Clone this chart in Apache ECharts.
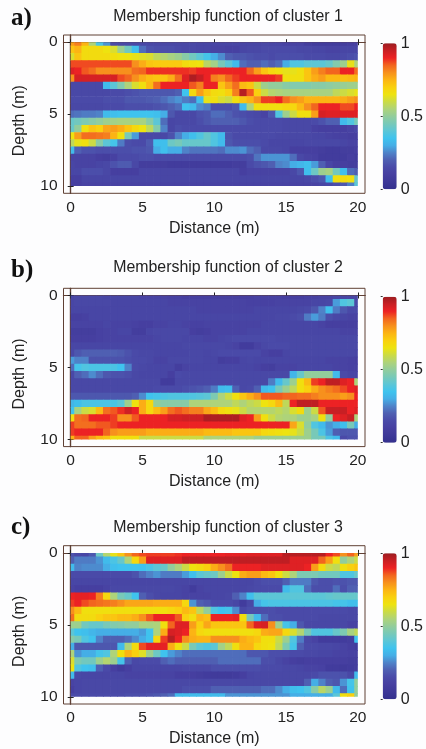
<!DOCTYPE html>
<html>
<head>
<meta charset="utf-8">
<style>html,body{margin:0;padding:0;background:#fdfdfe}#c{width:426px;height:749px}</style>
<script src="https://cdn.jsdelivr.net/npm/echarts@6/dist/echarts.min.js"></script>
</head>
<body>
<div id="c"></div>
<script>
// Membership values in percent; each row is one depth (every 0.5 m), each entry one distance (every 0.5 m)
const cluster1 = [
[78,82,75,55,37,27,15,14,14,14,14,14,14,14,14,14,14,14,13,13,13,13,13,13,13,13,13,14,13,13,12,12,12,9,8,8,8,8,9,10,11],
[72,75,67,67,67,65,62,52,44,34,22,17,16,16,16,15,14,14,13,13,12,12,11,11,13,14,14,15,15,15,15,15,14,14,13,13,12,12,13,13,13],
[62,72,67,67,67,67,66,65,65,64,63,62,58,56,54,52,48,44,40,36,30,26,20,18,18,17,16,16,15,16,16,16,16,15,15,15,14,14,15,16,17],
[87,87,87,87,87,87,87,87,87,80,76,72,71,71,71,71,67,66,65,57,53,45,40,33,22,20,20,22,20,22,30,38,38,40,40,40,42,47,52,64,55],
[92,90,86,84,80,80,80,80,80,84,85,89,89,89,89,89,89,88,90,90,90,90,90,90,90,85,78,72,68,66,64,64,66,72,78,82,85,85,90,90,84],
[80,93,93,93,93,93,93,87,85,80,76,73,72,72,76,84,92,98,95,90,82,80,85,88,90,90,90,90,90,88,66,66,66,72,76,78,74,74,73,74,75],
[14,14,14,14,14,33,40,47,55,62,66,74,84,90,90,90,90,86,82,90,90,72,78,84,74,72,60,52,50,50,48,47,47,47,48,48,49,50,51,52,52],
[14,14,14,14,14,14,15,15,16,17,18,18,18,18,18,20,35,68,78,72,67,66,70,82,97,86,70,60,56,55,54,54,54,54,54,54,54,58,60,62,64],
[15,15,15,15,15,16,16,16,18,18,18,19,20,22,25,27,24,22,34,64,66,62,60,66,72,75,80,88,88,90,84,80,78,75,75,75,75,75,76,78,80],
[14,14,14,14,14,15,15,15,16,16,16,16,17,18,20,22,35,33,26,24,16,16,16,18,33,55,66,66,66,66,68,68,74,80,85,90,90,90,87,87,90],
[22,23,24,24,25,33,34,35,35,35,35,35,34,30,18,14,14,14,17,18,22,22,20,17,16,15,14,12,18,38,52,60,66,66,78,93,92,92,92,92,92],
[42,44,46,48,50,52,53,54,54,54,54,48,40,22,13,14,14,14,16,18,20,20,20,20,18,16,15,15,15,15,14,14,14,14,15,17,20,20,33,38,45],
[42,50,66,72,70,77,78,76,72,68,65,58,47,25,13,16,15,15,15,15,15,15,15,15,15,15,15,15,15,15,14,14,14,14,11,10,10,10,10,12,14],
[65,78,84,84,83,82,75,66,45,28,14,14,14,14,17,25,30,34,38,42,38,33,17,15,15,15,15,15,15,14,14,14,14,14,13,13,12,11,11,10,10],
[58,64,66,60,48,40,36,24,16,15,15,19,34,34,43,45,42,42,42,42,38,33,18,16,16,16,16,15,13,13,13,13,13,14,14,14,14,14,13,12,12],
[33,20,17,17,16,16,16,16,16,17,17,18,30,34,30,30,25,23,23,23,23,22,26,26,27,22,20,14,14,14,13,10,10,10,10,9,8,8,9,9,10],
[12,12,12,12,10,9,11,15,15,15,16,16,15,15,15,15,15,15,15,15,15,15,15,15,15,16,23,27,27,27,27,22,14,12,11,8,8,8,8,10,8],
[13,12,12,12,13,14,17,19,19,14,9,9,9,9,8,8,8,8,8,8,8,8,8,9,9,15,17,18,20,25,26,30,32,34,28,20,13,10,10,9,9],
[13,13,16,16,16,14,10,10,10,10,13,13,13,13,13,13,13,13,13,13,13,13,13,13,10,12,12,12,12,12,12,14,18,34,43,52,54,44,34,22,20],
[10,10,13,13,13,13,13,13,13,13,13,13,13,13,13,13,13,13,13,13,13,13,13,13,13,13,13,13,13,13,13,13,13,14,16,18,34,66,67,66,42],
[10,10,12,12,12,12,12,12,12,12,12,12,12,12,12,12,12,12,12,12,12,12,12,12,12,12,12,12,12,12,12,12,12,12,12,13,14,16,18,24,40]
];
const cluster2 = [
[13,14,14,14,14,13,13,13,13,13,12,12,12,12,11,11,10,10,10,10,10,10,10,10,10,10,11,11,11,11,10,10,10,11,11,12,12,13,13,13,13],
[13,14,14,14,14,14,13,13,13,13,13,13,13,13,12,12,12,12,12,12,12,12,12,12,12,11,11,11,11,12,12,12,12,12,13,13,14,28,38,40,15],
[13,13,13,13,13,13,13,13,13,13,13,13,13,13,13,13,13,13,12,12,12,12,12,12,12,12,13,13,13,13,13,13,14,15,18,25,34,24,18,15,15],
[10,10,11,13,13,13,13,13,13,13,13,13,13,13,13,13,13,13,13,13,13,13,13,13,13,13,13,13,13,14,14,15,16,24,28,24,16,14,13,12,12],
[12,12,12,12,12,13,12,12,12,11,10,10,12,12,13,13,12,11,11,12,12,12,12,12,12,12,12,13,13,13,13,13,13,13,13,12,10,10,10,10,10],
[9,9,9,9,11,12,12,13,13,9,9,13,14,14,14,14,14,10,9,10,12,12,12,12,12,13,13,13,13,13,13,13,13,13,13,13,13,13,12,12,12],
[10,10,10,10,11,12,12,12,12,12,12,12,13,14,14,14,13,13,13,12,12,13,14,15,15,15,15,15,15,14,14,14,14,14,14,14,14,14,14,14,14],
[13,13,13,13,13,13,13,13,13,13,13,13,13,13,13,13,14,14,14,14,14,14,13,12,8,8,12,14,15,15,15,14,14,14,14,14,14,14,14,14,14],
[14,18,20,20,20,20,20,19,17,15,14,14,13,13,13,13,13,14,14,13,14,15,15,15,15,15,15,12,10,10,13,14,14,14,14,14,14,14,14,14,13],
[28,25,25,17,17,17,17,17,16,15,15,14,12,12,14,14,14,14,14,13,13,9,10,10,13,14,13,13,13,13,13,13,13,13,13,13,12,12,12,11,10],
[22,36,38,37,37,37,37,35,25,15,14,13,13,13,13,9,12,13,13,13,13,13,13,13,13,13,12,10,9,12,12,12,13,13,13,13,13,12,12,11,11],
[14,20,22,26,22,18,17,17,16,14,13,13,13,13,10,15,14,14,14,14,14,14,14,14,14,14,14,14,14,14,14,32,42,50,50,50,50,33,15,13,13],
[14,14,14,14,14,14,14,14,14,14,14,14,14,8,8,14,14,14,14,14,14,14,14,14,14,14,14,14,24,33,42,52,66,74,88,90,96,96,92,90,55],
[14,14,14,14,14,14,14,14,14,14,14,14,15,15,15,15,16,17,18,20,24,33,34,20,14,15,20,33,35,45,52,58,66,70,76,80,82,84,87,90,92],
[18,18,18,18,18,18,18,18,18,20,26,35,36,37,38,38,38,38,39,40,46,55,60,66,72,76,80,86,86,86,85,85,84,84,82,80,80,80,78,80,90],
[32,34,37,37,37,37,37,40,52,65,76,68,50,48,48,48,48,55,55,55,55,55,55,58,55,58,60,65,68,74,58,90,96,96,96,90,90,90,90,90,90],
[35,54,60,62,74,84,86,89,94,90,76,68,74,78,84,86,84,82,82,77,74,68,66,64,60,56,56,56,56,58,56,62,67,52,60,86,95,95,95,90,92],
[66,84,85,90,90,90,88,80,80,86,90,90,90,90,93,93,94,94,94,98,98,98,98,98,92,90,78,66,60,56,55,55,52,52,54,66,50,90,92,95,55],
[88,84,84,84,86,86,88,90,90,90,90,90,90,90,90,90,90,90,90,90,90,90,90,90,90,90,90,90,90,90,90,77,62,50,38,33,27,30,34,45,30],
[88,90,90,90,90,85,80,78,78,78,78,76,76,76,76,76,76,76,76,74,74,74,74,72,72,72,72,68,67,66,65,64,60,52,45,37,28,20,18,18,18],
[75,85,85,78,74,72,66,66,66,66,60,60,60,60,60,60,60,60,60,55,55,55,55,55,55,55,52,52,52,52,52,52,52,52,45,45,37,33,15,17,17]
];
const cluster3 = [
[17,14,13,18,43,56,64,72,80,85,87,88,88,88,88,89,90,90,90,90,90,90,91,91,91,92,92,92,92,92,97,97,97,97,97,97,90,87,80,85,78],
[20,24,24,24,27,33,37,42,55,68,78,92,92,92,92,92,96,96,96,96,96,96,96,96,96,96,96,96,96,96,96,92,92,92,92,85,78,66,50,55,60],
[33,25,26,26,26,30,34,35,35,35,35,37,40,42,50,55,60,65,67,70,76,80,84,90,90,90,90,92,92,92,92,92,92,90,78,67,60,58,66,70,72],
[15,15,15,15,15,15,15,15,15,17,22,25,27,24,24,24,28,34,40,42,43,52,60,65,76,78,78,74,72,66,60,55,46,46,46,44,44,44,38,38,42],
[13,13,13,13,13,13,13,13,13,13,13,13,13,13,13,13,13,13,13,13,13,13,13,13,13,13,15,16,16,16,20,24,24,24,18,16,16,17,17,18,18],
[12,10,10,10,10,12,14,14,14,14,14,14,14,14,14,13,12,8,12,13,13,13,13,13,13,14,15,15,15,15,33,38,38,22,16,16,16,22,16,20,20],
[90,91,91,90,82,68,55,45,42,35,20,16,14,13,13,13,12,12,12,12,13,13,14,20,25,34,40,40,40,40,40,40,40,40,40,40,41,42,42,42,42],
[88,90,87,85,84,83,82,80,77,77,77,77,76,76,76,76,68,27,20,18,15,15,15,13,8,14,30,36,37,37,37,37,37,37,37,37,37,36,36,34,34],
[80,74,66,66,66,66,66,66,66,66,66,66,66,66,68,70,74,72,58,50,38,35,36,26,14,16,16,16,16,15,15,15,15,15,15,15,15,15,15,14,14],
[84,67,67,67,70,72,72,74,74,76,80,86,90,90,90,86,70,66,75,73,90,90,90,91,66,45,33,22,16,16,15,15,15,15,15,14,14,14,14,14,14],
[52,52,44,42,42,45,47,48,50,50,54,54,55,66,85,92,92,78,70,77,72,72,72,72,72,85,92,93,80,52,36,30,18,14,14,14,14,14,14,12,12],
[40,35,34,32,30,30,30,30,30,30,28,35,55,76,93,92,90,75,68,66,66,66,66,66,66,66,68,76,77,77,68,62,56,45,38,38,38,42,46,54,58],
[48,45,38,35,25,20,20,20,22,26,30,35,68,88,97,90,80,76,75,75,80,80,80,80,76,74,72,66,66,60,52,38,24,14,12,8,8,8,8,9,35],
[30,18,18,18,18,18,18,33,55,67,87,91,91,91,76,66,60,45,40,38,40,53,58,66,75,75,68,66,65,58,46,36,20,15,15,14,14,13,12,10,8],
[55,27,30,30,36,38,55,66,75,70,63,52,43,35,28,25,22,22,22,22,22,22,22,22,22,18,18,18,16,16,16,15,15,14,14,13,13,12,12,11,11],
[62,46,44,44,52,56,52,36,20,14,15,15,15,20,22,20,20,20,20,20,20,22,22,22,22,22,22,16,16,14,12,10,9,10,10,10,10,10,10,9,9],
[65,38,35,34,20,15,10,7,10,13,13,13,13,13,13,13,14,14,14,14,16,16,16,16,16,16,16,15,15,15,14,14,13,12,12,11,8,8,7,8,9],
[33,14,13,13,13,13,13,13,12,12,12,12,12,12,12,10,10,10,9,8,7,7,7,8,10,13,14,14,14,14,14,14,14,14,15,17,17,17,17,14,33],
[12,13,14,14,14,14,14,14,14,14,14,14,14,14,14,14,14,14,14,14,14,14,14,14,14,14,14,14,14,14,14,14,14,20,30,25,20,18,27,36,50],
[10,13,14,14,14,14,14,14,14,14,14,14,14,14,14,14,16,16,16,16,20,20,20,20,20,20,20,22,22,26,30,34,35,38,48,57,52,33,22,35,50],
[15,15,15,15,15,15,15,15,16,16,16,17,18,20,22,33,33,33,33,33,33,33,27,27,27,27,27,27,27,27,27,30,30,30,30,30,30,40,66,70,50]
];
const panelNames = ['a)', 'b)', 'c)'];
const panelTitles = ['Membership function of cluster 1', 'Membership function of cluster 2', 'Membership function of cluster 3'];
const distanceTicks = [0, 5, 10, 15, 20];
const depthTicks = [0, 5, 10];
const barTicks = [0, 0.5, 1];
const colormap = ['#34308e','#3d3898','#463fa0','#4a4aa8','#4f5fb2','#4f82c8','#45aee6','#3fc3ee','#5cc6d6','#78c9b8','#92cd9c','#aed37a','#cbdb45','#eee30f','#f9d00f','#fcb414','#f7901d','#f2651f','#ec2224','#c81f24','#9c1c20'];

const frameColor = '#5f4034', textColor = '#222', sans = '"Liberation Sans", Arial, sans-serif';
const frameTops = [35, 288.3, 545.7], frameH = 158.3, frameLeft = 63.5, frameW = 301.5;
const titleTops = [9, 260, 520], letterTops = [6, 258, 515];
const barTops = [43.3, 296.7, 553.3], barH = 146, barLeft = 382.7, barW = 14;

function renderCell(params, api) {
  const x = api.value(0), y = api.value(1);
  const a = api.coord([x - 0.25, y - 0.25]), b = api.coord([x + 0.25, y + 0.25]);
  const lo = api.coord([0, 0]), hi = api.coord([20, 10]);
  // cells overlap their neighbours by under a pixel so that no seams show between them
  const rect = echarts.graphic.clipRectByRect(
    {x: a[0], y: a[1], width: b[0] - a[0] + 0.7, height: b[1] - a[1] + 0.7},
    {x: lo[0], y: lo[1], width: hi[0] - lo[0], height: hi[1] - lo[1]});
  if (!rect) return;
  return {type: 'rect', shape: rect, style: {fill: api.visual('color')}};
}
const axisFont = {color: textColor, fontFamily: sans, fontSize: 15.5};
const nameFont = {color: textColor, fontFamily: sans, fontSize: 16};
const grid = [], xAxis = [], yAxis = [], series = [], visualMap = [], title = [];
[cluster1, cluster2, cluster3].forEach((rows, i) => {
  const g = grid.length;
  grid.push({left: frameLeft, top: frameTops[i], width: frameW, height: frameH, show: true, borderColor: frameColor, borderWidth: 1, backgroundColor: 'transparent'});
  const xi = xAxis.length, yi = yAxis.length;
  const line = {show: true, lineStyle: {color: frameColor, width: 1.2}};
  const tick = (vals) => ({show: true, inside: true, length: 3, customValues: vals, lineStyle: {color: '#222', width: 1}});
  xAxis.push({gridIndex: g, type: 'value', position: 'bottom', min: -0.5, max: 20.5, splitLine: {show: false}, axisLine: line, axisTick: tick(distanceTicks),
    axisLabel: Object.assign({customValues: distanceTicks, margin: 6}, axisFont),
    name: 'Distance (m)', nameLocation: 'middle', nameGap: 27, nameTextStyle: nameFont});
  xAxis.push({gridIndex: g, type: 'value', position: 'top', min: -0.5, max: 20.5, splitLine: {show: false}, axisLine: line, axisTick: tick(distanceTicks), axisLabel: {show: false}});
  yAxis.push({gridIndex: g, type: 'value', position: 'left', inverse: true, min: -0.5, max: 10.5, splitLine: {show: false}, axisLine: line, axisTick: tick(depthTicks),
    axisLabel: Object.assign({customValues: depthTicks, margin: 6}, axisFont),
    name: 'Depth (m)', nameLocation: 'middle', nameGap: 36, nameTextStyle: Object.assign({padding: [0, 13, 0, 0]}, nameFont)});
  yAxis.push({gridIndex: g, type: 'value', position: 'right', inverse: true, min: -0.5, max: 10.5, splitLine: {show: false}, axisLine: line, axisTick: tick(depthTicks), axisLabel: {show: false}});
  const data = [];
  rows.forEach((row, r) => row.forEach((v, c) => data.push([c * 0.5, r * 0.5, v / 100])));
  const si = series.length;
  series.push({type: 'custom', name: panelTitles[i], xAxisIndex: xi, yAxisIndex: yi, coordinateSystem: 'cartesian2d', data: data, encode: {x: 0, y: 1}, renderItem: renderCell, silent: true, animation: false, clip: true});
  visualMap.push({type: 'continuous', seriesIndex: si, dimension: 2, min: 0, max: 1, calculable: false, realtime: false, hoverLink: false, left: barLeft, top: barTops[i], itemWidth: barW, itemHeight: barH, padding: 0, text: null, showLabel: false, inRange: {color: colormap}});
  // colour bar axis
  const gb = grid.length;
  grid.push({left: barLeft, top: barTops[i], width: barW, height: barH, show: false});
  xAxis.push({gridIndex: gb, type: 'value', min: 0, max: 1, show: false});
  yAxis.push({gridIndex: gb, type: 'value', position: 'right', min: 0, max: 1, splitLine: {show: false}, z: 10,
    axisLine: {show: false}, axisTick: {show: true, inside: true, length: 2, customValues: barTicks, lineStyle: {color: '#333', width: 1}},
    axisLabel: Object.assign({customValues: barTicks, margin: 6, formatter: (v) => String(v)}, axisFont, {fontSize: 16})});
  title.push({text: panelTitles[i], left: 228, textAlign: 'center', top: titleTops[i], padding: 0, textStyle: {color: textColor, fontFamily: sans, fontSize: 15.9, fontWeight: 'normal'}});
  title.push({text: panelNames[i], left: 11, top: letterTops[i], padding: 0, textStyle: {color: '#111', fontFamily: '"Liberation Serif", serif', fontSize: 25, fontWeight: 'bold'}});
});
const chart = echarts.init(document.getElementById('c'), null, {renderer: 'canvas'});
chart.setOption({backgroundColor: '#fdfdfe', animation: false, title, grid, xAxis, yAxis, series, visualMap});
</script>
</body>
</html>
